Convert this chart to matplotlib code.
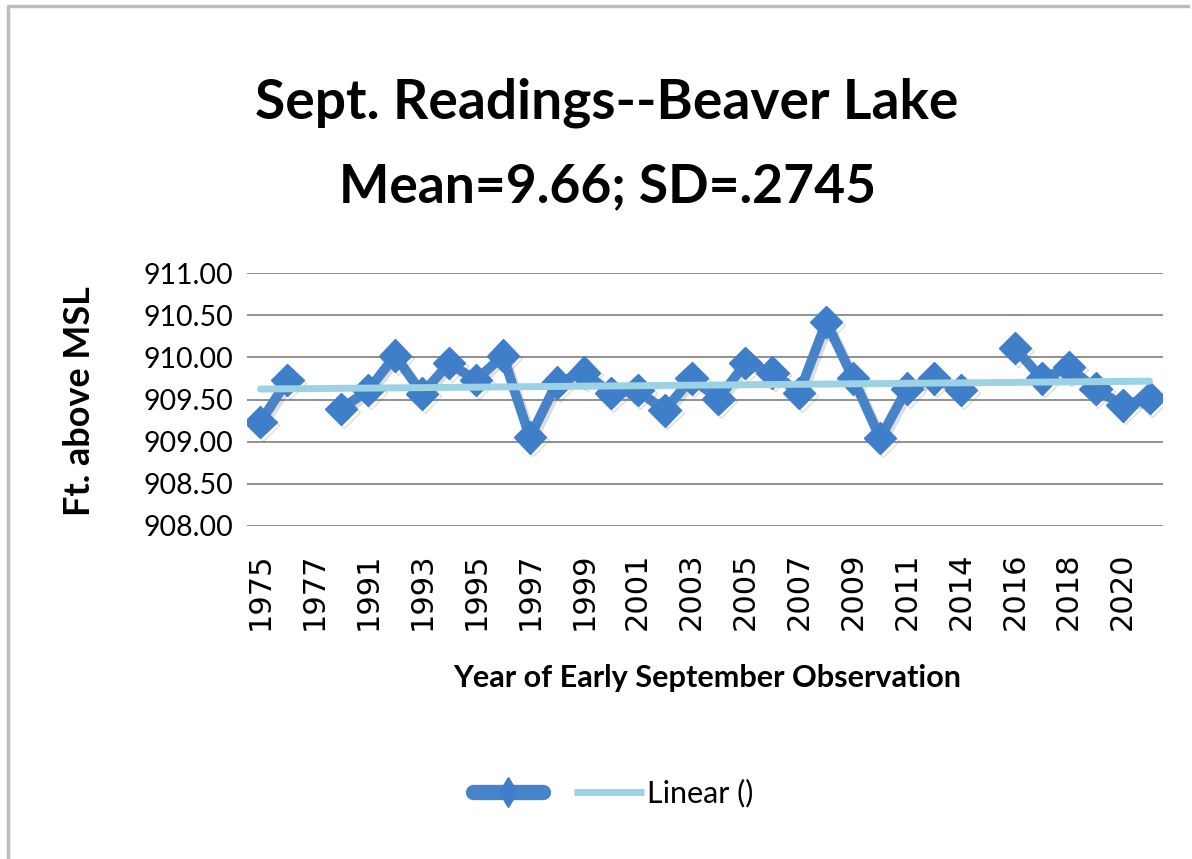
"""
Sept. lake level readings for Beaver Lake, redrawn as an Excel-style line chart
with a linear trend line.
"""
import numpy as np
import matplotlib
matplotlib.use("Agg")
import matplotlib.pyplot as plt
import matplotlib.patheffects as pe
from matplotlib.lines import Line2D

years = [1975, 1976, 1977, 1990,
         1991, 1992, 1993, 1994, 1995, 1996, 1997, 1998, 1999, 2000,
         2001, 2002, 2003, 2004, 2005, 2006, 2007, 2008, 2009, 2010, 2011,
         2013, 2014, 2015, 2016, 2017, 2018, 2019, 2020, 2021]
# ft above MSL, nan = no reading that year
levels = [909.23, 909.73, np.nan, 909.39,
          909.61, 910.02, 909.57, 909.93, 909.73, 910.02, 909.05, 909.70, 909.82, 909.58,
          909.61, 909.37, 909.75, 909.51, 909.93, 909.82, 909.58, 910.42, 909.75, 909.04, 909.63,
          909.75, 909.61, np.nan, 910.11, 909.75, 909.88, 909.63, 909.43, 909.52]
y_ticks = [908.0, 908.5, 909.0, 909.5, 910.0, 910.5, 911.0]

title1 = "Sept. Readings--Beaver Lake"
title2 = "Mean=9.66; SD=.2745"
xlab = "Year of Early September Observation"
ylab = "Ft. above MSL"

W, H = 1192, 859
DATA_C = "#4683C8"
MARK_C = "#3F7FCA"
TREND_C = "#9DD2E4"
GRID_C = "#888888"

fig = plt.figure(figsize=(W / 100, H / 100), dpi=100)
fig.patch.set_facecolor("white")


def px(x, y):
    return x / W, 1 - y / H


l, t = px(247, 273)
r, b = px(1163, 526)
ax = fig.add_axes([l, b, r - l, t - b])

idx = np.arange(len(years))
vals = np.array(levels)

shadow = [pe.SimpleLineShadow(offset=(2, -2), shadow_color="#555555", alpha=0.2), pe.Normal()]
ax.plot(idx, vals, color=DATA_C, lw=7, marker="D", markersize=16.5,
        markerfacecolor=MARK_C, markeredgecolor=MARK_C, zorder=3,
        path_effects=shadow)

ok = ~np.isnan(vals)
k, c = np.polyfit(idx[ok], vals[ok], 1)
ax.plot([idx[0], idx[-1]], [k * idx[0] + c, k * idx[-1] + c], color=TREND_C, lw=5,
        solid_capstyle="round", zorder=4)

ax.set_xlim(-0.5, len(years) - 0.5)
ax.set_ylim(908, 911)
ax.set_yticks(y_ticks)
ax.set_yticklabels([f"{v:.2f}" for v in y_ticks], fontfamily="Lato", fontsize=20.5)
ax.set_xticks(idx[::2])
ax.set_xticklabels([str(y) for y in years[::2]], rotation=90, fontfamily="DejaVu Sans",
                   fontsize=22)
ax.tick_params(axis="both", length=0)
ax.tick_params(axis="y", pad=10)
ax.tick_params(axis="x", pad=19)
ax.grid(axis="y", color=GRID_C, lw=1.3)
ax.set_axisbelow(True)
for s in ax.spines.values():
    s.set_visible(False)

# outer chart border, only top and left edges show in the original crop
fig.lines.append(Line2D([8 / W, 8 / W, 1188 / W], [0.0, 1 - 6 / H, 1 - 6 / H],
                        transform=fig.transFigure, color="#BDBDBD", lw=2.5))

rend = fig.canvas.get_renderer()


def fit(txt, size, vertical=False):
    ext = txt.get_window_extent(rend)
    cur = ext.height if vertical else ext.width
    txt.set_fontsize(txt.get_fontsize() * size / cur)


t1 = fig.text(*px(607, 119), title1, ha="center", va="baseline", fontfamily="Lato",
              fontweight="bold", fontsize=40)
fit(t1, 703)
t2 = fig.text(*px(608, 202), title2, ha="center", va="baseline", fontfamily="Lato",
              fontweight="bold", fontsize=40)
fit(t2, 537)
xl = fig.text(*px(707, 687), xlab, ha="center", va="baseline", fontfamily="Lato",
              fontweight="bold", fontsize=20)
fit(xl, 509)
yl = fig.text(*px(79, 401), ylab, ha="center", va="center", rotation=90,
              fontfamily="Lato", fontweight="bold", fontsize=20)
fit(yl, 230, vertical=True)

h1 = Line2D([], [], color=DATA_C, lw=11, solid_capstyle="round", marker="d",
            markersize=15, markerfacecolor=MARK_C, markeredgecolor=MARK_C)
h2 = Line2D([], [], color=TREND_C, lw=5, solid_capstyle="butt")
leg = fig.legend([h1, h2], ["", "Linear ()"], loc="center left",
                 bbox_to_anchor=px(473, 793), ncol=2, frameon=False, borderpad=0,
                 borderaxespad=0, handlelength=2.3, handletextpad=0.1,
                 columnspacing=0.9, prop={"family": "Lato", "size": 22})

fig.savefig("out.png", dpi=100)
